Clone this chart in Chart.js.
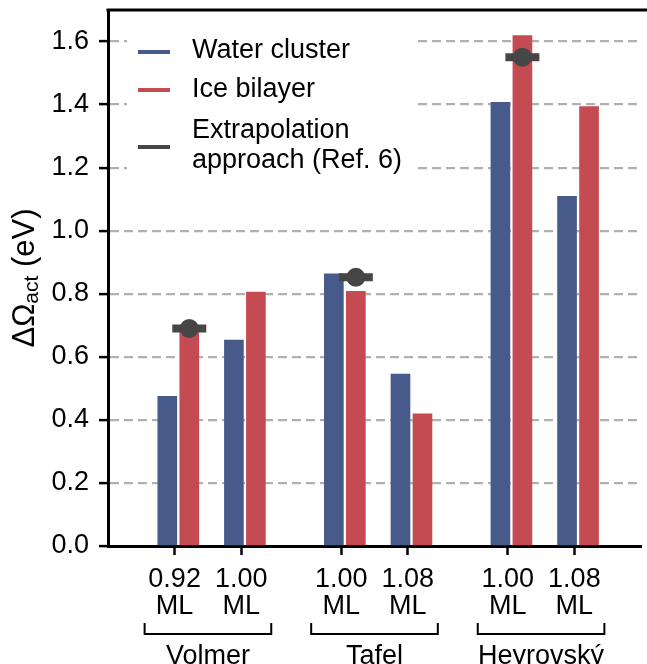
<!DOCTYPE html>
<html>
<head>
<meta charset="utf-8">
<script src="https://cdn.jsdelivr.net/npm/chart.js@4.4.0/dist/chart.umd.min.js"></script>
<style>
  html, body { margin: 0; padding: 0; background: #fff; }
  canvas { display: block; }
</style>
</head>
<body>
<canvas id="chart" width="647" height="664"></canvas>
<script>
// Data
const groups = ["Volmer", "Tafel", "Heyrovský"];
const coverages = ["0.92", "1.00", "1.00", "1.08", "1.00", "1.08"];
const positions = [0, 1, 2.5, 3.5, 5, 6];
const waterCluster = [0.475, 0.653, 0.863, 0.545, 1.407, 1.109];
const iceBilayer = [0.69, 0.805, 0.808, 0.419, 1.619, 1.394];
const extrapolation = [0.69, null, 0.852, null, 1.55, null];
const yTickValues = [0, 0.2, 0.4, 0.6, 0.8, 1.0, 1.2, 1.4, 1.6];

const BLUE = "#475b8b";
const RED = "#c44b52";
const DARK = "#464646";
const FONT = '"Liberation Sans", Arial, sans-serif';

// bars sit slightly left/right of their tick, as in the original
const blueOffset = -0.11;
const redOffset = 0.22;

const bluePoints = positions.map((p, i) => ({ x: p + blueOffset, y: waterCluster[i] }));
const redPoints = positions.map((p, i) => ({ x: p + redOffset, y: iceBilayer[i] }));
const extraPoints = positions
  .map((p, i) => ({ x: p + redOffset, y: extrapolation[i] }))
  .filter(pt => pt.y !== null);

// legend, top spine, brackets, group names and y title
const decor = {
  id: "decor",
  afterDatasetsDraw(chart) {
    const { ctx, chartArea: a } = chart;
    ctx.save();
    // legend box
    ctx.fillStyle = "#fff";
    ctx.fillRect(127, 22, 286, 164);
    const items = [
      { color: BLUE, y: 52, lines: ["Water cluster"], ty: [51] },
      { color: RED, y: 90, lines: ["Ice bilayer"], ty: [90] },
      { color: DARK, y: 147, lines: ["Extrapolation", "approach (Ref. 6)"], ty: [131, 161] }
    ];
    ctx.lineWidth = 4;
    ctx.font = "27px " + FONT;
    ctx.textAlign = "left";
    ctx.textBaseline = "middle";
    items.forEach(it => {
      ctx.strokeStyle = it.color;
      ctx.beginPath();
      ctx.moveTo(138, it.y);
      ctx.lineTo(170, it.y);
      ctx.stroke();
      ctx.fillStyle = "#000";
      it.lines.forEach((t, k) => ctx.fillText(t, 192, it.ty[k]));
    });

    ctx.strokeStyle = "#000";
    ctx.lineWidth = 3;
    ctx.beginPath();
    ctx.moveTo(a.left - 1.5, a.top);
    ctx.lineTo(chart.width, a.top);
    ctx.stroke();
    ctx.restore();
  },
  afterDraw(chart) {
    const { ctx, chartArea: a, scales: { x } } = chart;
    ctx.save();
    ctx.strokeStyle = "#000";
    ctx.lineWidth = 2;
    ctx.fillStyle = "#000";
    ctx.font = "27px " + FONT;
    ctx.textAlign = "center";
    ctx.textBaseline = "alphabetic";
    groups.forEach((g, i) => {
      const x1 = x.getPixelForValue(positions[2 * i]) - 30;
      const x2 = x.getPixelForValue(positions[2 * i + 1]) + 30;
      ctx.beginPath();
      ctx.moveTo(x1, 623);
      ctx.lineTo(x1, 634);
      ctx.lineTo(x2, 634);
      ctx.lineTo(x2, 623);
      ctx.stroke();
      ctx.fillText(g, (x1 + x2) / 2, 664);
    });

    // y axis title with subscript
    ctx.translate(25, (a.top + a.bottom) / 2);
    ctx.rotate(-Math.PI / 2);
    ctx.textAlign = "left";
    ctx.textBaseline = "middle";
    const big = "31px " + FONT, small = "21px " + FONT;
    ctx.font = big;
    const w1 = ctx.measureText("ΔΩ").width;
    const w3 = ctx.measureText(" (eV)").width;
    ctx.font = small;
    const w2 = ctx.measureText("act").width;
    let cx = -(w1 + w2 + w3) / 2;
    ctx.font = big;
    ctx.fillText("ΔΩ", cx, 0);
    cx += w1;
    ctx.font = small;
    ctx.fillText("act", cx, 7);
    cx += w2;
    ctx.font = big;
    ctx.fillText(" (eV)", cx, 0);
    ctx.restore();
  }
};

const noPad = s => {
  s.paddingTop = 0; s.paddingBottom = 0; s.paddingLeft = 0; s.paddingRight = 0;
};

new Chart(document.getElementById("chart"), {
  type: "bar",
  data: {
    datasets: [
      {
        type: "scatter", label: "Extrapolation approach (Ref. 6)", data: extraPoints,
        pointStyle: "circle", pointRadius: 9.5, pointBackgroundColor: DARK,
        pointBorderWidth: 0, order: 0
      },
      {
        type: "scatter", label: "Extrapolation bar", data: extraPoints,
        pointStyle: "line", pointRadius: 17, pointBorderColor: DARK,
        pointBorderWidth: 8, order: 1
      },
      {
        label: "Water cluster", data: bluePoints, backgroundColor: BLUE,
        barThickness: 19, grouped: false, order: 2
      },
      {
        label: "Ice bilayer", data: redPoints, backgroundColor: RED,
        barThickness: 19, grouped: false, order: 3
      }
    ]
  },
  options: {
    responsive: false,
    animation: false,
    devicePixelRatio: 1,
    layout: { autoPadding: false, padding: { top: 10, right: 6, left: 0, bottom: 0 } },
    plugins: { legend: { display: false }, tooltip: { enabled: false } },
    scales: {
      x: {
        type: "linear",
        min: -1,
        max: 7,
        offset: false,
        afterBuildTicks: s => { s.ticks = positions.map(v => ({ value: v })); },
        afterFit: s => { s.height = 118; noPad(s); },
        ticks: {
          autoSkip: false,
          maxRotation: 0,
          padding: 11,
          color: "#000",
          font: { family: FONT, size: 27, lineHeight: 1.0 },
          callback: (v, i) => [coverages[i], "ML"]
        },
        grid: {
          offset: false,
          drawOnChartArea: false,
          tickLength: 9,
          tickColor: "#000",
          tickWidth: 2.5
        },
        border: { color: "#000", width: 3 }
      },
      y: {
        min: 0,
        max: 1.7,
        afterBuildTicks: s => { s.ticks = yTickValues.map(v => ({ value: v })); },
        afterFit: s => { s.width = 108; noPad(s); },
        ticks: {
          padding: 10,
          color: "#000",
          font: { family: FONT, size: 27, lineHeight: 0.1 },
          callback: v => v.toFixed(1)
        },
        grid: {
          color: c => (c.tick && c.tick.value === 0 ? "rgba(0,0,0,0)" : "#b0b0b0"),
          lineWidth: 2.2,
          tickLength: 9,
          tickColor: "#000",
          tickWidth: 2.5,
          tickBorderDash: []
        },
        border: { color: "#000", width: 3, dash: [9, 5] }
      }
    }
  },
  plugins: [decor]
});
</script>
</body>
</html>
